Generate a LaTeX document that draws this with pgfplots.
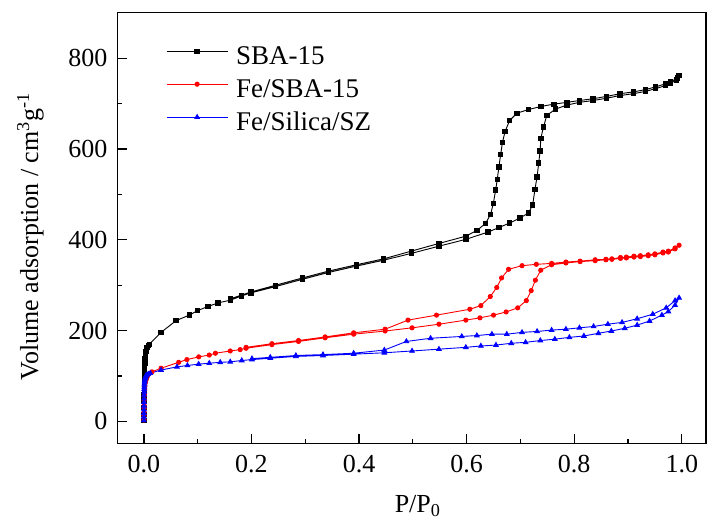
\documentclass[border=0pt]{standalone}
\usepackage{fontspec}
\setmainfont{Liberation Serif}
\usepackage{pgfplots}
\pgfplotsset{compat=1.18}

\begin{document}
\begin{tikzpicture}
% page frame around the axis box (axis box spans 588.5bp x 430.6bp)
\path[use as bounding box] (-117.5bp,-83.7bp) rectangle (589.5bp,443.3bp);
\begin{axis}[
  scale only axis,
  width=588.5bp, height=430.6bp,
  xmin=-0.049, xmax=1.045,
  ymin=-48.5, ymax=900.6,
  axis line style={line width=1.6bp},
  every tick/.style={black, line width=1.3bp},
  tick align=inside,
  xtick pos=bottom, ytick pos=left,
  major tick length=9bp, minor tick length=4.5bp,
  xtick={0,0.2,...,1.0}, minor x tick num=1,
  ytick={0,200,...,800}, minor y tick num=1,
  xticklabel style={/pgf/number format/.cd, fixed, fixed zerofill, precision=1, /tikz/.cd},
  /pgf/number format/assume math mode=true,
  tick label style={font=\fontsize{26bp}{31bp}\selectfont, inner sep=0pt},
  xticklabel style={anchor=north, yshift=-12bp},
  yticklabel style={anchor=east, xshift=-10bp},
  xlabel={P/P\textsubscript{0}},
  ylabel={Volume adsorption / cm\textsuperscript{3}g\textsuperscript{-1}},
  every axis x label/.style={at={(axis description cs:0.51,-0.161)}, anchor=base,
    font=\fontsize{26bp}{31bp}\selectfont},
  every axis y label/.style={at={(axis description cs:-0.135,0.48)}, rotate=90, anchor=base,
    font=\fontsize{26bp}{31bp}\selectfont},
  legend cell align=left,
  legend style={at={(axis description cs:0.0824,0.925)}, anchor=north west,
    draw=none, fill=none, inner sep=0pt, row sep=8bp, column sep=8bp,
    font=\fontsize{27bp}{32bp}\selectfont,
    nodes={inner sep=0pt, text height=19bp, text depth=6bp}},
  legend image code/.code={
    \draw[mark repeat=2, mark phase=2, #1]
      plot coordinates {(0bp,6.5bp) (30.5bp,6.5bp) (61bp,6.5bp)};},
  every axis plot/.append style={line width=0.9bp},
]

% SBA-15: adsorption branch, then desorption branch
\addplot[black, mark=square*, mark size=2.2bp, mark options={fill=black}] coordinates {
(0.0001,2) (0.0002,15) (0.0003,30) (0.0004,45) (0.0005,58) (0.0006,70)
(0.0007,80) (0.0008,90) (0.0009,98) (0.001,105) (0.0012,112) (0.0014,118)
(0.0016,123) (0.0018,128) (0.002,132) (0.0023,137) (0.0026,141) (0.003,146)
(0.0035,150) (0.004,154) (0.0045,157) (0.005,160) (0.006,163) (0.008,167)
(0.010,170) (0.032,196) (0.060,222) (0.0845,234) (0.100,244) (0.119,253)
(0.138,261) (0.161,267) (0.181,276) (0.199,283) (0.245,297) (0.295,313)
(0.343,328) (0.395,342) (0.4455,355) (0.497,370) (0.5486,386) (0.5985,401)
(0.6396,417) (0.660,427) (0.680,437) (0.699,448) (0.715,459) (0.7228,477)
(0.727,511) (0.731,539) (0.734,569) (0.7366,596) (0.738,624) (0.743,649)
(0.749,674) (0.765,688) (0.7865,697) (0.810,703) (0.835,707) (0.860,712)
(0.885,718) (0.910,722) (0.932,727) (0.951,733) (0.970,740) (0.979,745)
(0.990,752) (0.995,762)
(0.992,757) (0.979,748) (0.970,744) (0.951,737) (0.932,731) (0.910,726)
(0.885,722) (0.860,716) (0.835,711) (0.810,707) (0.7865,703) (0.762,699)
(0.7384,694) (0.7146,687) (0.6934,679) (0.680,663) (0.6715,639) (0.6665,614)
(0.6633,588) (0.660,561) (0.657,533) (0.654,510) (0.6496,480) (0.6446,456)
(0.635,436) (0.6195,421) (0.5985,408) (0.5486,392) (0.497,375) (0.4455,358)
(0.395,345) (0.343,331) (0.295,316) (0.245,300) (0.199,285) (0.161,270)
};
\addlegendentry{SBA-15}

% Fe/SBA-15
\addplot[red, mark=*, mark size=2.1bp, mark options={fill=red}] coordinates {
(0.0002,3) (0.0003,12) (0.0004,20) (0.0005,28) (0.0006,35) (0.0008,48)
(0.001,58) (0.0015,70) (0.002,78) (0.003,86) (0.004,91) (0.005,95)
(0.007,100) (0.010,105) (0.015,109) (0.032,117) (0.0647,130)
(0.080,136) (0.102,142) (0.1216,146) (0.133,150) (0.1606,155) (0.179,158)
(0.190,161) (0.238,169) (0.2875,176) (0.337,184) (0.390,192) (0.4485,199)
(0.4986,206) (0.5486,214) (0.5985,223) (0.6247,228) (0.650,234) (0.6734,241)
(0.695,250) (0.711,266) (0.720,288) (0.7278,311) (0.7378,333) (0.758,345)
(0.7846,349) (0.811,352) (0.839,354) (0.859,356) (0.870,357) (0.886,359)
(0.897,360) (0.911,362) (0.923,363) (0.9376,365) (0.950,367) (0.965,371)
(0.975,373) (0.9875,380) (0.995,388)
(0.9875,382) (0.975,375) (0.965,373) (0.950,369) (0.9376,367) (0.923,365)
(0.911,364) (0.897,362) (0.886,361) (0.870,358) (0.859,357) (0.839,356)
(0.811,353) (0.7846,351) (0.758,348) (0.7296,346) (0.703,343) (0.678,335)
(0.665,316) (0.656,295) (0.644,275) (0.6265,255) (0.606,247) (0.544,234)
(0.491,223) (0.4485,203) (0.390,195) (0.337,186) (0.2875,178) (0.238,171)
(0.190,163)
};
\addlegendentry{Fe/SBA-15}

% Fe/Silica/SZ
\addplot[blue, mark=triangle*, mark size=2.6bp, mark options={fill=blue}] coordinates {
(0.0001,2) (0.00015,10) (0.0002,18) (0.00025,26) (0.0003,34) (0.00035,42)
(0.0004,50) (0.0005,58) (0.0006,65) (0.0007,71) (0.0008,76) (0.001,81)
(0.0012,85) (0.0015,88) (0.002,92) (0.0025,95) (0.003,97) (0.004,100)
(0.005,102) (0.008,104) (0.012,106) (0.032,113)
(0.0616,120) (0.081,123) (0.1018,126) (0.1216,128) (0.142,130) (0.1606,131)
(0.182,134) (0.201,136) (0.235,139) (0.2826,143) (0.333,145) (0.390,148)
(0.447,151) (0.4986,155) (0.5486,159) (0.5985,163) (0.6265,166) (0.6546,168)
(0.683,172) (0.7096,174) (0.737,178) (0.764,181) (0.791,185) (0.818,188)
(0.845,194) (0.869,199) (0.894,205) (0.917,212) (0.940,221) (0.963,234)
(0.975,242) (0.9875,256) (0.995,272)
(0.9875,266) (0.971,250) (0.946,236) (0.917,226) (0.889,218) (0.8626,214)
(0.836,209) (0.8097,206) (0.7846,203) (0.758,201) (0.731,198) (0.703,196)
(0.6747,192) (0.647,192) (0.619,189) (0.591,187) (0.533,183) (0.488,176)
(0.447,157) (0.390,150) (0.333,147) (0.2826,145) (0.235,141) (0.201,138)
};
\addlegendentry{Fe/Silica/SZ}

\end{axis}
\end{tikzpicture}
\end{document}
